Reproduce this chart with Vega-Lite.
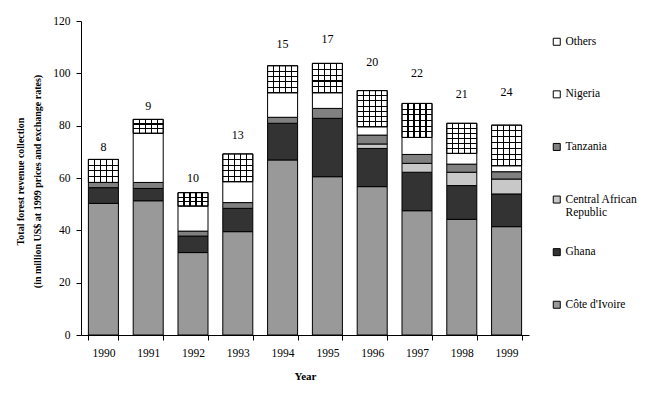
{
  "$schema": "https://vega.github.io/schema/vega-lite/v6.json",
  "width": 448,
  "height": 314,
  "autosize": "none",
  "padding": {"left": 81, "top": 21, "right": 121, "bottom": 64},
  "background": "white",
  "config": {
    "font": "Liberation Serif",
    "view": {"stroke": null},
    "axis": {
      "labelFont": "Liberation Serif",
      "labelFontSize": 11.5,
      "labelColor": "black",
      "titleFont": "Liberation Serif",
      "titleFontSize": 11,
      "titleFontWeight": "bold",
      "titleColor": "black",
      "domainColor": "black",
      "tickColor": "black",
      "grid": false
    },
    "legend": {
      "labelFont": "Liberation Serif",
      "labelFontSize": 11.5,
      "labelColor": "black"
    }
  },
  "datasets": {
    "rev": [
      {"year": 1990, "country": "Côte d'Ivoire", "value": 50.3},
      {"year": 1990, "country": "Ghana", "value": 6.0},
      {"year": 1990, "country": "Tanzania", "value": 2.0},
      {"year": 1990, "country": "Others", "value": 8.8},
      {"year": 1991, "country": "Côte d'Ivoire", "value": 51.3},
      {"year": 1991, "country": "Ghana", "value": 4.7},
      {"year": 1991, "country": "Tanzania", "value": 2.3},
      {"year": 1991, "country": "Nigeria", "value": 18.8},
      {"year": 1991, "country": "Others", "value": 5.3},
      {"year": 1992, "country": "Côte d'Ivoire", "value": 31.5},
      {"year": 1992, "country": "Ghana", "value": 6.3},
      {"year": 1992, "country": "Tanzania", "value": 1.9},
      {"year": 1992, "country": "Nigeria", "value": 9.6},
      {"year": 1992, "country": "Others", "value": 5.1},
      {"year": 1993, "country": "Côte d'Ivoire", "value": 39.5},
      {"year": 1993, "country": "Ghana", "value": 8.9},
      {"year": 1993, "country": "Tanzania", "value": 2.2},
      {"year": 1993, "country": "Nigeria", "value": 8.0},
      {"year": 1993, "country": "Others", "value": 10.6},
      {"year": 1994, "country": "Côte d'Ivoire", "value": 66.9},
      {"year": 1994, "country": "Ghana", "value": 14.0},
      {"year": 1994, "country": "Tanzania", "value": 2.3},
      {"year": 1994, "country": "Nigeria", "value": 9.4},
      {"year": 1994, "country": "Others", "value": 10.3},
      {"year": 1995, "country": "Côte d'Ivoire", "value": 60.5},
      {"year": 1995, "country": "Ghana", "value": 22.3},
      {"year": 1995, "country": "Tanzania", "value": 3.8},
      {"year": 1995, "country": "Nigeria", "value": 6.0},
      {"year": 1995, "country": "Others", "value": 11.2},
      {"year": 1996, "country": "Côte d'Ivoire", "value": 56.7},
      {"year": 1996, "country": "Ghana", "value": 14.6},
      {"year": 1996, "country": "Central African Republic", "value": 1.7},
      {"year": 1996, "country": "Tanzania", "value": 3.4},
      {"year": 1996, "country": "Nigeria", "value": 3.2},
      {"year": 1996, "country": "Others", "value": 13.8},
      {"year": 1997, "country": "Côte d'Ivoire", "value": 47.5},
      {"year": 1997, "country": "Ghana", "value": 14.7},
      {"year": 1997, "country": "Central African Republic", "value": 3.4},
      {"year": 1997, "country": "Tanzania", "value": 3.4},
      {"year": 1997, "country": "Nigeria", "value": 6.5},
      {"year": 1997, "country": "Others", "value": 13.0},
      {"year": 1998, "country": "Côte d'Ivoire", "value": 44.2},
      {"year": 1998, "country": "Ghana", "value": 12.9},
      {"year": 1998, "country": "Central African Republic", "value": 5.1},
      {"year": 1998, "country": "Tanzania", "value": 3.1},
      {"year": 1998, "country": "Nigeria", "value": 4.1},
      {"year": 1998, "country": "Others", "value": 11.5},
      {"year": 1999, "country": "Côte d'Ivoire", "value": 41.4},
      {"year": 1999, "country": "Ghana", "value": 12.5},
      {"year": 1999, "country": "Central African Republic", "value": 5.7},
      {"year": 1999, "country": "Tanzania", "value": 2.8},
      {"year": 1999, "country": "Nigeria", "value": 2.3},
      {"year": 1999, "country": "Others", "value": 15.5}
    ],
    "labels": [
      {"year": 1990, "n": 8},
      {"year": 1991, "n": 9},
      {"year": 1992, "n": 10},
      {"year": 1993, "n": 13},
      {"year": 1994, "n": 15},
      {"year": 1995, "n": 17},
      {"year": 1996, "n": 20},
      {"year": 1997, "n": 22},
      {"year": 1998, "n": 21},
      {"year": 1999, "n": 24}
    ]
  },
  "data": {"name": "rev"},
  "transform": [
    {"calculate": "indexof([\"Côte d'Ivoire\", \"Ghana\", \"Central African Republic\", \"Tanzania\", \"Nigeria\", \"Others\"], datum.country)", "as": "rank"},
    {"stack": "value", "groupby": ["year"], "sort": [{"field": "rank", "order": "ascending"}], "as": ["y0", "y1"]}
  ],
  "encoding": {
    "x": {
      "field": "year",
      "type": "ordinal",
      "scale": {"paddingInner": 0.33, "paddingOuter": 0.165},
      "axis": {
        "title": "Year",
        "labelAngle": 0,
        "tickBand": "extent",
        "tickSize": 5,
        "labelPadding": 7,
        "titlePadding": 12
      }
    }
  },
  "layer": [
    {
      "mark": {"type": "bar", "stroke": "black", "strokeWidth": 1},
      "encoding": {
        "y": {
          "field": "y1",
          "type": "quantitative",
          "scale": {"domain": [0, 120]},
          "axis": {
            "values": [0, 20, 40, 60, 80, 100, 120],
            "tickSize": 5,
            "labelPadding": 6,
            "title": ["Total forest revenue collection", "(in million US$ at 1999 prices and exchange rates)"],
            "titleFontSize": 10,
            "titleX": -61,
            "titleY": 160,
            "titleAngle": -90,
            "titleAlign": "center",
            "titleBaseline": "middle",
            "titleLineHeight": 17
          }
        },
        "y2": {"field": "y0"},
        "fill": {
          "field": "country",
          "type": "nominal",
          "scale": {
            "domain": ["Others", "Nigeria", "Tanzania", "Central African Republic", "Ghana", "Côte d'Ivoire"],
            "range": ["#ffffff", "#ffffff", "#808080", "#c8c8c8", "#333333", "#999999"]
          },
          "legend": {
            "title": null,
            "orient": "none",
            "legendX": 470,
            "legendY": 15,
            "columns": 1,
            "gridAlign": "all",
            "symbolType": "square",
            "symbolSize": 49,
            "symbolStrokeColor": "black",
            "symbolStrokeWidth": 1,
            "rowPadding": 26.6,
            "labelOffset": 3,
            "labelExpr": "datum.label == 'Central African Republic' ? ['Central African', 'Republic'] : datum.label",
            "encode": {
              "symbols": {
                "update": {
                  "stroke": {"value": "black"},
                  "strokeWidth": {"value": 1},
                  "fill": [
                    {"test": "datum.value === 'Others'", "value": {"gradient": "linear", "x1": 0, "y1": 0, "x2": 1, "y2": 0, "stops": [
                      {"offset": 0, "color": "#ffffff"}, {"offset": 0.43, "color": "#ffffff"}, {"offset": 0.43, "color": "#000000"}, {"offset": 0.57, "color": "#000000"}, {"offset": 0.57, "color": "#ffffff"}, {"offset": 1, "color": "#ffffff"}]}},
                    {"scale": "fill", "field": "value"}
                  ]
                }
              }
            }
          }
        }
      }
    },
    {
      "transform": [{"filter": "datum.country === 'Others'"}],
      "mark": {"type": "bar", "strokeWidth": 0},
      "encoding": {
        "y": {"field": "y1", "type": "quantitative"},
        "y2": {"field": "y0"},
        "fill": {
          "condition": [
            {"test": "datum.year == 1990", "value": {"gradient": "linear", "x1": 0, "y1": 0, "x2": 0, "y2": 1, "stops": [
              {"offset": 0, "color": "rgba(0,0,0,0)"}, {"offset": 0.228, "color": "rgba(0,0,0,0)"}, {"offset": 0.228, "color": "#000"}, {"offset": 0.272, "color": "#000"}, {"offset": 0.272, "color": "rgba(0,0,0,0)"},
              {"offset": 0.478, "color": "rgba(0,0,0,0)"}, {"offset": 0.478, "color": "#000"}, {"offset": 0.522, "color": "#000"}, {"offset": 0.522, "color": "rgba(0,0,0,0)"},
              {"offset": 0.728, "color": "rgba(0,0,0,0)"}, {"offset": 0.728, "color": "#000"}, {"offset": 0.772, "color": "#000"}, {"offset": 0.772, "color": "rgba(0,0,0,0)"},
              {"offset": 1, "color": "rgba(0,0,0,0)"}]}},
            {"test": "datum.year == 1991 || datum.year == 1992", "value": {"gradient": "linear", "x1": 0, "y1": 0, "x2": 0, "y2": 1, "stops": [
              {"offset": 0, "color": "rgba(0,0,0,0)"}, {"offset": 0.296, "color": "rgba(0,0,0,0)"}, {"offset": 0.296, "color": "#000"}, {"offset": 0.37, "color": "#000"}, {"offset": 0.37, "color": "rgba(0,0,0,0)"},
              {"offset": 0.63, "color": "rgba(0,0,0,0)"}, {"offset": 0.63, "color": "#000"}, {"offset": 0.704, "color": "#000"}, {"offset": 0.704, "color": "rgba(0,0,0,0)"},
              {"offset": 1, "color": "rgba(0,0,0,0)"}]}},
            {"test": "datum.year >= 1993 && datum.year <= 1995", "value": {"gradient": "linear", "x1": 0, "y1": 0, "x2": 0, "y2": 1, "stops": [
              {"offset": 0, "color": "rgba(0,0,0,0)"}, {"offset": 0.182, "color": "rgba(0,0,0,0)"}, {"offset": 0.182, "color": "#000"}, {"offset": 0.218, "color": "#000"}, {"offset": 0.218, "color": "rgba(0,0,0,0)"},
              {"offset": 0.382, "color": "rgba(0,0,0,0)"}, {"offset": 0.382, "color": "#000"}, {"offset": 0.418, "color": "#000"}, {"offset": 0.418, "color": "rgba(0,0,0,0)"},
              {"offset": 0.582, "color": "rgba(0,0,0,0)"}, {"offset": 0.582, "color": "#000"}, {"offset": 0.618, "color": "#000"}, {"offset": 0.618, "color": "rgba(0,0,0,0)"},
              {"offset": 0.782, "color": "rgba(0,0,0,0)"}, {"offset": 0.782, "color": "#000"}, {"offset": 0.818, "color": "#000"}, {"offset": 0.818, "color": "rgba(0,0,0,0)"},
              {"offset": 1, "color": "rgba(0,0,0,0)"}]}},
            {"test": "datum.year == 1997 || datum.year == 1998", "value": {"gradient": "linear", "x1": 0, "y1": 0, "x2": 0, "y2": 1, "stops": [
              {"offset": 0, "color": "rgba(0,0,0,0)"}, {"offset": 0.151, "color": "rgba(0,0,0,0)"}, {"offset": 0.151, "color": "#000"}, {"offset": 0.183, "color": "#000"}, {"offset": 0.183, "color": "rgba(0,0,0,0)"},
              {"offset": 0.317, "color": "rgba(0,0,0,0)"}, {"offset": 0.317, "color": "#000"}, {"offset": 0.349, "color": "#000"}, {"offset": 0.349, "color": "rgba(0,0,0,0)"},
              {"offset": 0.484, "color": "rgba(0,0,0,0)"}, {"offset": 0.484, "color": "#000"}, {"offset": 0.516, "color": "#000"}, {"offset": 0.516, "color": "rgba(0,0,0,0)"},
              {"offset": 0.651, "color": "rgba(0,0,0,0)"}, {"offset": 0.651, "color": "#000"}, {"offset": 0.683, "color": "#000"}, {"offset": 0.683, "color": "rgba(0,0,0,0)"},
              {"offset": 0.817, "color": "rgba(0,0,0,0)"}, {"offset": 0.817, "color": "#000"}, {"offset": 0.849, "color": "#000"}, {"offset": 0.849, "color": "rgba(0,0,0,0)"},
              {"offset": 1, "color": "rgba(0,0,0,0)"}]}}
          ],
          "value": {"gradient": "linear", "x1": 0, "y1": 0, "x2": 0, "y2": 1, "stops": [
            {"offset": 0, "color": "rgba(0,0,0,0)"}, {"offset": 0.13, "color": "rgba(0,0,0,0)"}, {"offset": 0.13, "color": "#000"}, {"offset": 0.156, "color": "#000"}, {"offset": 0.156, "color": "rgba(0,0,0,0)"},
            {"offset": 0.273, "color": "rgba(0,0,0,0)"}, {"offset": 0.273, "color": "#000"}, {"offset": 0.299, "color": "#000"}, {"offset": 0.299, "color": "rgba(0,0,0,0)"},
            {"offset": 0.416, "color": "rgba(0,0,0,0)"}, {"offset": 0.416, "color": "#000"}, {"offset": 0.442, "color": "#000"}, {"offset": 0.442, "color": "rgba(0,0,0,0)"},
            {"offset": 0.558, "color": "rgba(0,0,0,0)"}, {"offset": 0.558, "color": "#000"}, {"offset": 0.584, "color": "#000"}, {"offset": 0.584, "color": "rgba(0,0,0,0)"},
            {"offset": 0.701, "color": "rgba(0,0,0,0)"}, {"offset": 0.701, "color": "#000"}, {"offset": 0.727, "color": "#000"}, {"offset": 0.727, "color": "rgba(0,0,0,0)"},
            {"offset": 0.844, "color": "rgba(0,0,0,0)"}, {"offset": 0.844, "color": "#000"}, {"offset": 0.87, "color": "#000"}, {"offset": 0.87, "color": "rgba(0,0,0,0)"},
            {"offset": 1, "color": "rgba(0,0,0,0)"}]}
        }
      }
    },
    {
      "transform": [{"filter": "datum.country === 'Others'"}],
      "mark": {"type": "bar", "stroke": "black", "strokeWidth": 1, "fill": {"gradient": "linear", "x1": 0, "y1": 0, "x2": 1, "y2": 0, "stops": [
        {"offset": 0, "color": "rgba(0,0,0,0)"}, {"offset": 0.183, "color": "rgba(0,0,0,0)"}, {"offset": 0.183, "color": "#000"}, {"offset": 0.217, "color": "#000"}, {"offset": 0.217, "color": "rgba(0,0,0,0)"},
        {"offset": 0.383, "color": "rgba(0,0,0,0)"}, {"offset": 0.383, "color": "#000"}, {"offset": 0.417, "color": "#000"}, {"offset": 0.417, "color": "rgba(0,0,0,0)"},
        {"offset": 0.583, "color": "rgba(0,0,0,0)"}, {"offset": 0.583, "color": "#000"}, {"offset": 0.617, "color": "#000"}, {"offset": 0.617, "color": "rgba(0,0,0,0)"},
        {"offset": 0.783, "color": "rgba(0,0,0,0)"}, {"offset": 0.783, "color": "#000"}, {"offset": 0.817, "color": "#000"}, {"offset": 0.817, "color": "rgba(0,0,0,0)"},
        {"offset": 1, "color": "rgba(0,0,0,0)"}]}},
      "encoding": {
        "y": {"field": "y1", "type": "quantitative"},
        "y2": {"field": "y0"}
      }
    },
    {
      "transform": [
        {"filter": "datum.country === 'Others'"},
        {"lookup": "year", "from": {"data": {"name": "labels"}, "key": "year", "fields": ["n"]}},
        {"calculate": "datum.y1 + datum.n / 2", "as": "label_y"}
      ],
      "mark": {"type": "text", "fontSize": 12, "fill": "black", "baseline": "middle", "dy": -2},
      "encoding": {
        "y": {"field": "label_y", "type": "quantitative"},
        "text": {"field": "n", "type": "quantitative"}
      }
    }
  ]
}
